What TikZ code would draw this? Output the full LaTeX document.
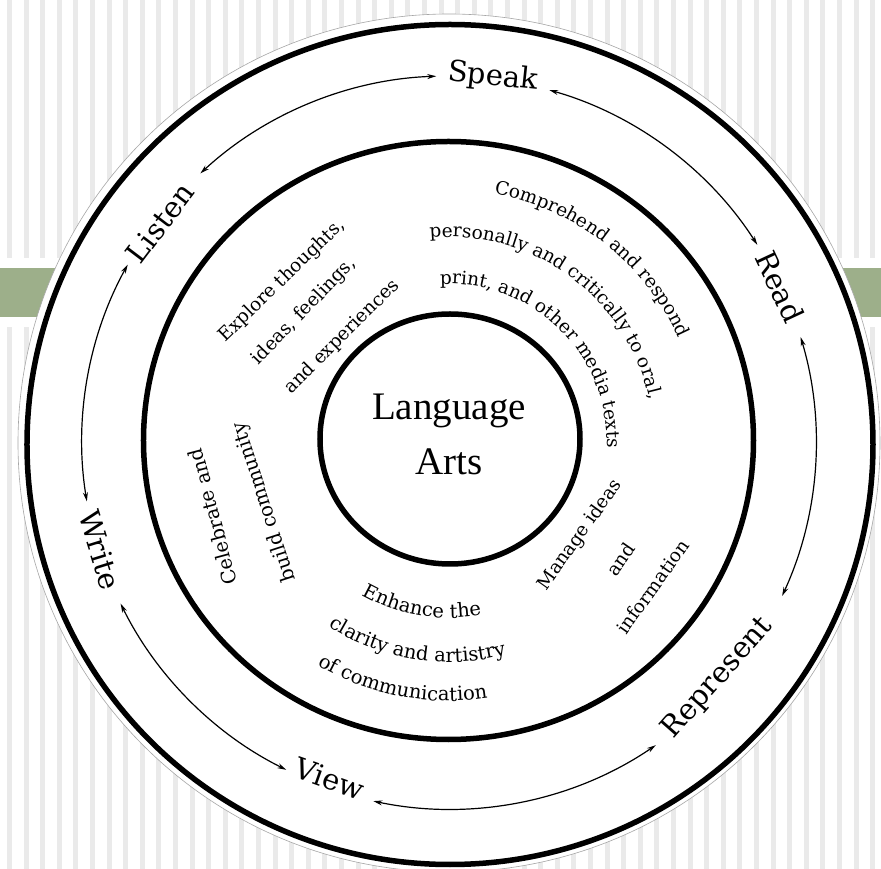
\documentclass[tikz,border=0pt]{standalone}
\usepackage{fontspec}
\setmainfont{DejaVu Serif}
\newfontfamily\timesfam{Liberation Serif}
\usetikzlibrary{arrows.meta,decorations.text}
\definecolor{sage}{RGB}{157,175,138}
\definecolor{stripegray}{RGB}{234,234,234}
\newcommand\bandfont{\fontsize{18.5}{20}\selectfont}
\newcommand\bandfontb{\fontsize{19.5}{21}\selectfont}
\tikzset{
  ring/.style={draw=black, line width=5.5pt},
  lab/.style={font=\fontsize{29}{32}\selectfont, inner sep=1pt},
  band/.style={font=\bandfont, inner sep=0pt},
  bandb/.style={font=\bandfontb, inner sep=0pt},
  dbl/.style={line width=1.2pt, arrows={Stealth[length=9pt,width=5pt]-Stealth[length=9pt,width=5pt]}},
  stripe/.style={fill=stripegray},
}
\begin{document}
\begin{tikzpicture}[x=1pt,y=1pt]
% origin = pixel (449,442) of the reference
\useasboundingbox (-449,-427) rectangle (432,442);
\fill[white] (-449,-427) rectangle (432,442);
\foreach \k in {0,...,52}{
  \fill[stripe] (-442+16.6*\k,184) rectangle ++(5,258);
  \fill[stripe] (-442+16.6*\k,-427) rectangle ++(5,542);
}
\fill[sage] (-449,125) rectangle (432,174);
% white disc of the scanned figure
\fill[white] (0,-1) ellipse [x radius=431, y radius=429];
\draw[black!35, line width=0.6pt] (0,-1) ellipse [x radius=431, y radius=429];
% rings
\draw[ring] (1,-2.5) ellipse [x radius=423, y radius=420];
\draw[ring] (-0.5,1.5) ellipse [x radius=305, y radius=299];
\draw[ring] (1,3) ellipse [x radius=130, y radius=125];
% centre
\node[font=\timesfam\fontsize{39}{55}\selectfont, align=center, inner sep=0pt, anchor=north] (la) at (0,47.8) {Language\\Arts};
% outer labels
\node[lab, rotate=-6]    (speak) at (44,365)    {Speak};
\node[lab, rotate=-65]   (read)  at (331,155)   {Read};
\node[lab, rotate=48.7]  (repr)  at (269,-236)  {Represent};
\node[lab, rotate=-19.5] (view)  at (-119,-337) {View};
\node[lab, rotate=-72.8] (write) at (-349,-108) {Write};
\node[lab, rotate=52.8]  (listen) at (-289,219) {Listen};
% arrows on the middle circle
\coordinate (a1) at (132.8:366);
\coordinate (a2) at (74.1:366);
\coordinate (a3) at (16.6:367);
\coordinate (a4) at (-55.7:367);
\coordinate (a5) at (-116.4:366);
\coordinate (a6) at (189.3:367);
\draw[dbl] (a1) arc [start angle=132.8, end angle=92.0, radius=366];
\draw[dbl] (a2) arc [start angle=74.1, end angle=32.6, radius=366];
\draw[dbl] (a3) arc [start angle=16.6, end angle=-24.8, radius=367];
\draw[dbl] (a4) arc [start angle=-55.7, end angle=-101.9, radius=367];
\draw[dbl] (a5) arc [start angle=-116.4, end angle=-153.8, radius=366];
\draw[dbl] (a6) arc [start angle=189.3, end angle=151.1, radius=367];
% band texts, straight
\node[band, rotate=44] (e1) at (136:232) {Explore thoughts,};
\node[band, rotate=46] (e2) at (138:195) {ideas, feelings,};
\node[band, rotate=45] (e3) at (135.5:150) {and experiences};
\node[band, rotate=54.5] (m1) at (-35.4:161) {Manage ideas};
\node[band, rotate=55.5] (m2) at (-34.3:208) {and};
\node[band, rotate=54.5] (m3) at (-35.4:250) {information};
\node[bandb, rotate=105] (c1) at (-162.4:248) {Celebrate and};
\node[bandb, rotate=108] (c2) at (-162:194) {build community};
% band texts, curved
\path[decorate, decoration={text along path, text align=center,
  text={|\bandfont|Comprehend and respond}}]
  (112:252) arc [start angle=112, end angle=-8, radius=252];
\path[decorate, decoration={text along path, text align=center,
  text={|\bandfont|personally and critically to oral,}}]
  (118:205) arc [start angle=118, end angle=-11, radius=205];
\path[decorate, decoration={text along path, text align=center,
  text={|\bandfont|print, and other media texts}}]
  (115:158) arc [start angle=115, end angle=-24, radius=158];
\path[decorate, decoration={text along path, text align=center,
  text={|\bandfontb|Enhance the}}]
  (-160:176) arc [start angle=-160, end angle=-39, radius=176];
\path[decorate, decoration={text along path, text align=center,
  text={|\bandfontb|clarity and artistry}}]
  (-160:220) arc [start angle=-160, end angle=-38, radius=220];
\path[decorate, decoration={text along path, text align=center,
  text={|\bandfontb|of communication}}]
  (-160:259) arc [start angle=-160, end angle=-42, radius=259];
\end{tikzpicture}
\end{document}
